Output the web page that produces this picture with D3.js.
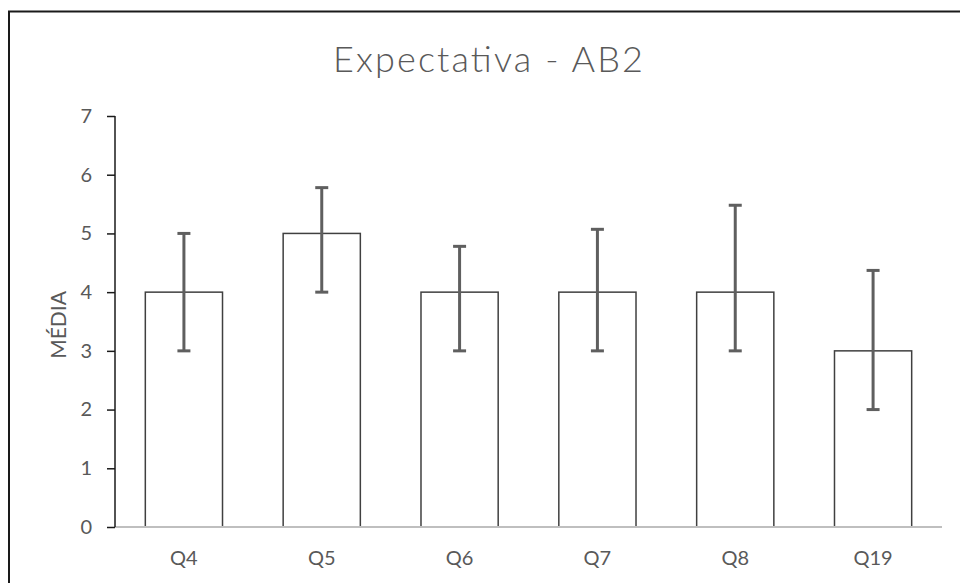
<!DOCTYPE html>
<html>
<head>
<meta charset="utf-8">
<script src="https://cdn.jsdelivr.net/npm/d3@7"></script>
<style>
  html, body { margin: 0; padding: 0; background: #fff; }
  svg { display: block; }
  text { font-family: Lato, "Open Sans", sans-serif; }
</style>
</head>
<body>
<svg id="chart" width="960" height="583"></svg>
<script>
const categories = ["Q4", "Q5", "Q6", "Q7", "Q8", "Q19"];
const means = [4, 5, 4, 4, 4, 3];
const errLow = [3, 4, 3, 3, 3, 2];
const errHigh = [5, 5.78, 4.78, 5.07, 5.48, 4.37];
const yTicks = [0, 1, 2, 3, 4, 5, 6, 7];
const title = "Expectativa - AB2";
const yLabel = "MÉDIA";

const svg = d3.select("#chart");
const margin = { left: 115, right: 18, top: 116, bottom: 56 };
const W = 960, H = 583;

// outer frame (top and left edges)
svg.append("path")
  .attr("d", "M9,583 L9,11.5 L960,11.5")
  .attr("fill", "none").attr("stroke", "#1a1a1a").attr("stroke-width", 2);

const x = d3.scaleBand().domain(categories)
  .range([margin.left, W - margin.right]).paddingInner(0.44).paddingOuter(0.22);
const y = d3.scaleLinear().domain([0, 7]).range([H - margin.bottom, margin.top]);

// title
svg.append("text")
  .attr("x", 488).attr("y", 72)
  .attr("text-anchor", "middle")
  .attr("font-size", 36).attr("font-weight", 300)
  .attr("fill", "#595959")
  .attr("textLength", 310).attr("lengthAdjust", "spacing")
  .text(title);

// bars
svg.append("g").selectAll("rect").data(categories).join("rect")
  .attr("x", d => x(d))
  .attr("y", (d, i) => y(means[i]))
  .attr("width", x.bandwidth())
  .attr("height", (d, i) => y(0) - y(means[i]))
  .attr("fill", "#fff").attr("stroke", "#404040").attr("stroke-width", 1.5);

// x axis
const xAxis = svg.append("g").attr("transform", `translate(0,${y(0)})`)
  .call(d3.axisBottom(x).tickSize(0).tickPadding(24));
xAxis.select(".domain").attr("stroke", "#bfbfbf").attr("stroke-width", 2)
  .attr("d", `M${margin.left},0H${W - margin.right}`);
xAxis.selectAll("text").attr("font-size", 20).attr("fill", "#595959")
  .attr("font-family", "Lato, sans-serif");

// y axis
const yAxis = svg.append("g").attr("transform", `translate(${margin.left},0)`)
  .call(d3.axisLeft(y).tickValues(yTicks).tickSize(8).tickPadding(15).tickFormat(d3.format("d")));
yAxis.select(".domain").attr("stroke", "#1a1a1a").attr("stroke-width", 1.5)
  .attr("d", `M0,${y(7)}V${y(0)}`);
yAxis.selectAll(".tick line").attr("stroke", "#1a1a1a").attr("stroke-width", 1.5);
yAxis.selectAll("text").attr("font-size", 20).attr("fill", "#595959")
  .attr("font-family", "Lato, sans-serif");

// error bars
const eb = svg.append("g").attr("stroke", "#5f5f5f").attr("stroke-width", 3);
categories.forEach((c, i) => {
  const cx = x(c) + x.bandwidth() / 2;
  eb.append("line").attr("x1", cx).attr("x2", cx).attr("y1", y(errLow[i])).attr("y2", y(errHigh[i]));
  eb.append("line").attr("x1", cx - 6.5).attr("x2", cx + 6.5).attr("y1", y(errLow[i])).attr("y2", y(errLow[i]));
  eb.append("line").attr("x1", cx - 6.5).attr("x2", cx + 6.5).attr("y1", y(errHigh[i])).attr("y2", y(errHigh[i]));
});

// y label
svg.append("text")
  .attr("transform", "translate(66,325) rotate(-90)")
  .attr("text-anchor", "middle")
  .attr("font-size", 21).attr("fill", "#595959")
  .text(yLabel);
</script>
</body>
</html>
